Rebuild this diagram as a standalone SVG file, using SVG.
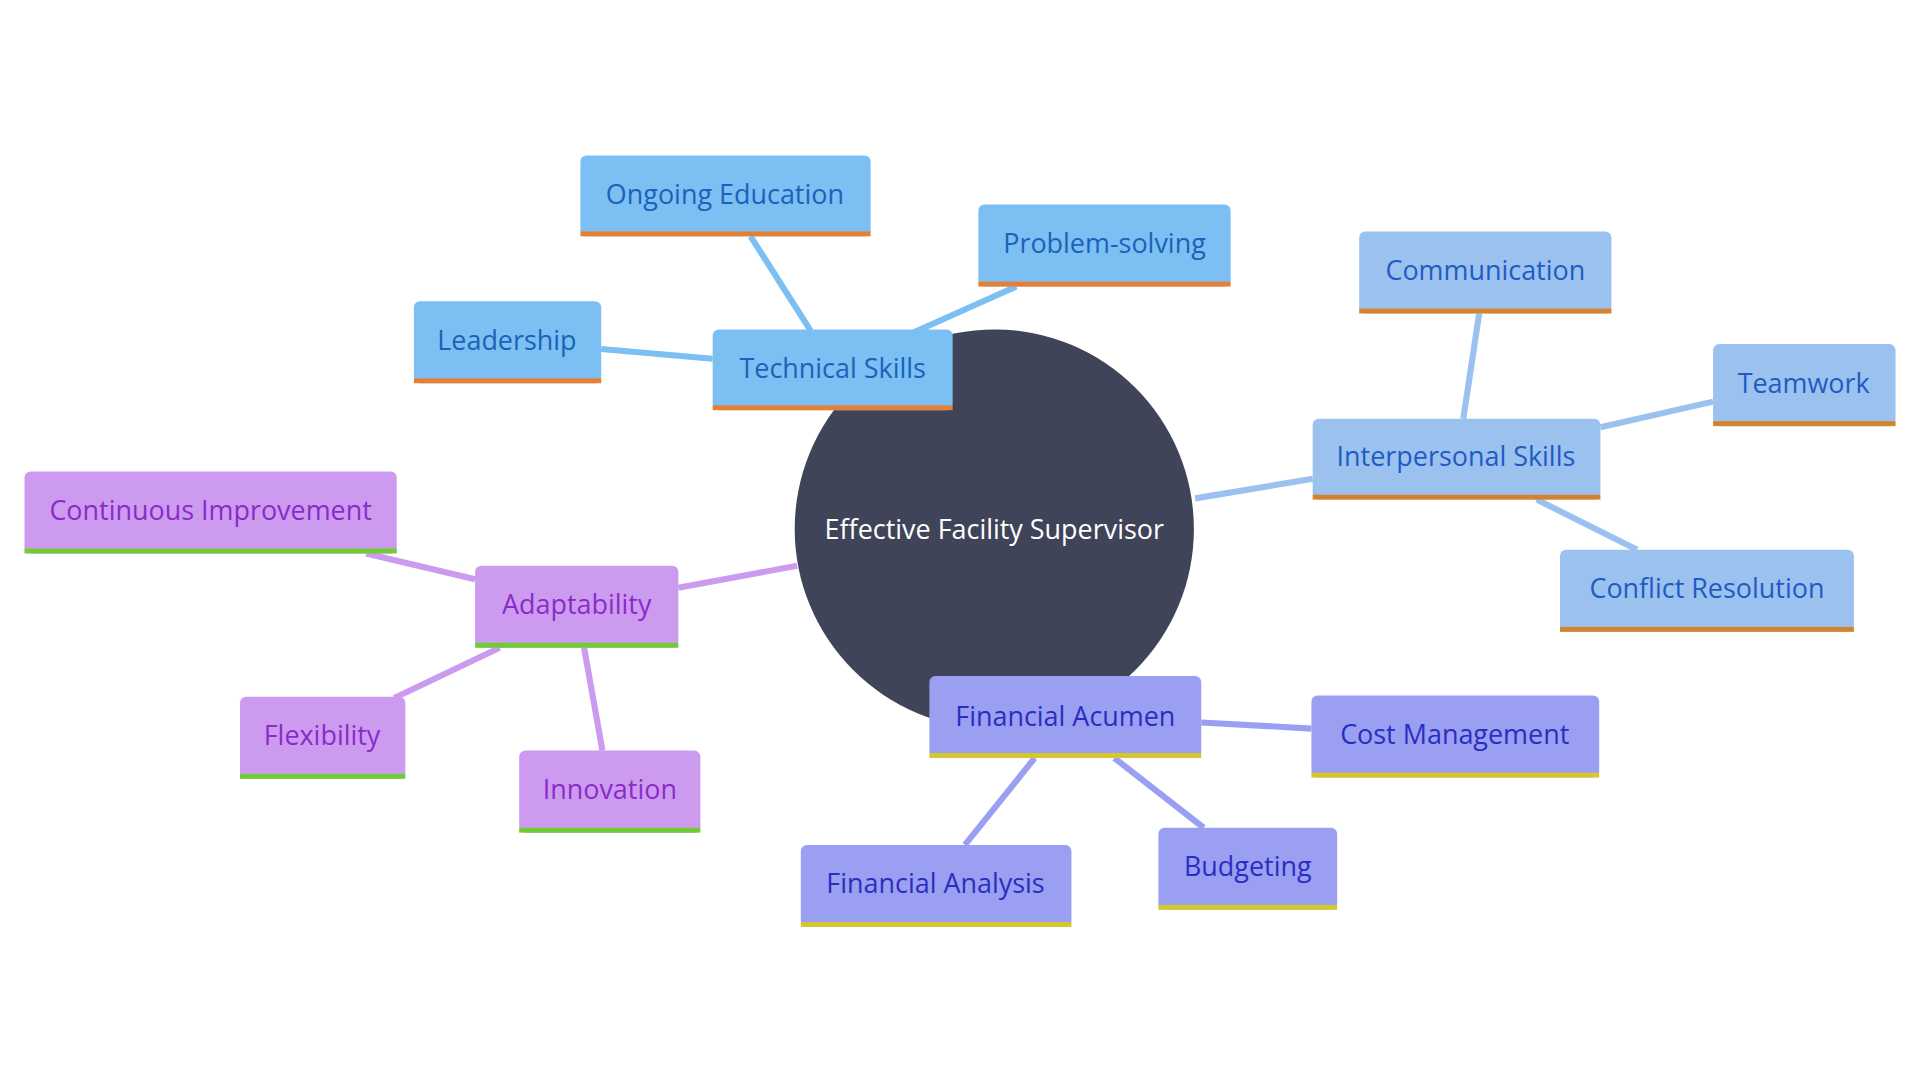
<svg xmlns="http://www.w3.org/2000/svg" width="1920" height="1080" viewBox="0 0 1920 1080">
<style>
text{font-family:"Open Sans","Noto Sans",sans-serif;font-size:22px;text-anchor:middle;dominant-baseline:central}
.t rect.b{fill:#7bbff3}.t rect.u{fill:#e67e33}.t text{fill:#1a63b8}
.i rect.b{fill:#9bc1ef}.i rect.u{fill:#d4832a}.i text{fill:#1f5bc4}
.f rect.b{fill:#9a9ff2}.f rect.u{fill:#d6c82a}.f text{fill:#2a2ec0}
.a rect.b{fill:#cc9bf0}.a rect.u{fill:#6fcc33}.a text{fill:#8a2bc8}
.e{stroke-width:5;fill:none}
</style>
<rect width="1920" height="1080" fill="#fff"/>
<g transform="scale(1.2245)">
<g id="connectors">
<g stroke="#7bbff3" class="e"><path d="M745,272L830,234"/><path d="M662,270L613,193"/><path d="M582,293L491,285"/><path d="M700,300L760,330"/></g>
<g stroke="#9bc1ef" class="e"><path d="M976,407L1072,391"/><path d="M1195,342L1208,256"/><path d="M1307,349L1399,328"/><path d="M1255,408L1337,449"/></g>
<g stroke="#9a9ff2" class="e"><path d="M981,590L1071,595"/><path d="M845,619L788,690"/><path d="M910,619L983,676"/></g>
<g stroke="#cc9bf0" class="e"><path d="M651,462L554,480"/><path d="M388,473L299,452"/><path d="M408,529L322,570"/><path d="M477,529L492,613"/></g>
</g>
<g id="center"><circle cx="812" cy="432" r="163" fill="#404459"/><text x="812" y="432" fill="#fff">Effective Facility Supervisor</text></g>
<g id="technical" class="t"><rect class="b" x="582" y="269" width="196" height="66" rx="5"/><rect class="u" x="582" y="331" width="196" height="4"/><text x="680" y="300">Technical Skills</text></g>
<g id="ongoing" class="t"><rect class="b" x="474" y="127" width="237" height="66" rx="5"/><rect class="u" x="474" y="189" width="237" height="4"/><text x="592" y="158">Ongoing Education</text></g>
<g id="problem" class="t"><rect class="b" x="799" y="167" width="206" height="67" rx="5"/><rect class="u" x="799" y="230" width="206" height="4"/><text x="902" y="198">Problem-solving</text></g>
<g id="leadership" class="t"><rect class="b" x="338" y="246" width="153" height="67" rx="5"/><rect class="u" x="338" y="309" width="153" height="4"/><text x="414" y="277">Leadership</text></g>
<g id="interpersonal" class="i"><rect class="b" x="1072" y="342" width="235" height="66" rx="5"/><rect class="u" x="1072" y="404" width="235" height="4"/><text x="1189" y="372">Interpersonal Skills</text></g>
<g id="communication" class="i"><rect class="b" x="1110" y="189" width="206" height="67" rx="5"/><rect class="u" x="1110" y="252" width="206" height="4"/><text x="1213" y="220">Communication</text></g>
<g id="teamwork" class="i"><rect class="b" x="1399" y="281" width="149" height="67" rx="5"/><rect class="u" x="1399" y="344" width="149" height="4"/><text x="1473" y="312">Teamwork</text></g>
<g id="conflict" class="i"><rect class="b" x="1274" y="449" width="240" height="67" rx="5"/><rect class="u" x="1274" y="512" width="240" height="4"/><text x="1394" y="480">Conflict Resolution</text></g>
<g id="financial" class="f"><rect class="b" x="759" y="552" width="222" height="67" rx="5"/><rect class="u" x="759" y="615" width="222" height="4"/><text x="870" y="584">Financial Acumen</text></g>
<g id="cost" class="f"><rect class="b" x="1071" y="568" width="235" height="67" rx="5"/><rect class="u" x="1071" y="631" width="235" height="4"/><text x="1188" y="599">Cost Management</text></g>
<g id="budgeting" class="f"><rect class="b" x="946" y="676" width="146" height="67" rx="5"/><rect class="u" x="946" y="739" width="146" height="4"/><text x="1019" y="707">Budgeting</text></g>
<g id="analysis" class="f"><rect class="b" x="654" y="690" width="221" height="67" rx="5"/><rect class="u" x="654" y="753" width="221" height="4"/><text x="764" y="721">Financial Analysis</text></g>
<g id="adaptability" class="a"><rect class="b" x="388" y="462" width="166" height="67" rx="5"/><rect class="u" x="388" y="525" width="166" height="4"/><text x="471" y="493">Adaptability</text></g>
<g id="continuous" class="a"><rect class="b" x="20" y="385" width="304" height="67" rx="5"/><rect class="u" x="20" y="448" width="304" height="4"/><text x="172" y="416">Continuous Improvement</text></g>
<g id="flexibility" class="a"><rect class="b" x="196" y="569" width="135" height="67" rx="5"/><rect class="u" x="196" y="632" width="135" height="4"/><text x="263" y="600">Flexibility</text></g>
<g id="innovation" class="a"><rect class="b" x="424" y="613" width="148" height="67" rx="5"/><rect class="u" x="424" y="676" width="148" height="4"/><text x="498" y="644">Innovation</text></g>
</g>
</svg>
